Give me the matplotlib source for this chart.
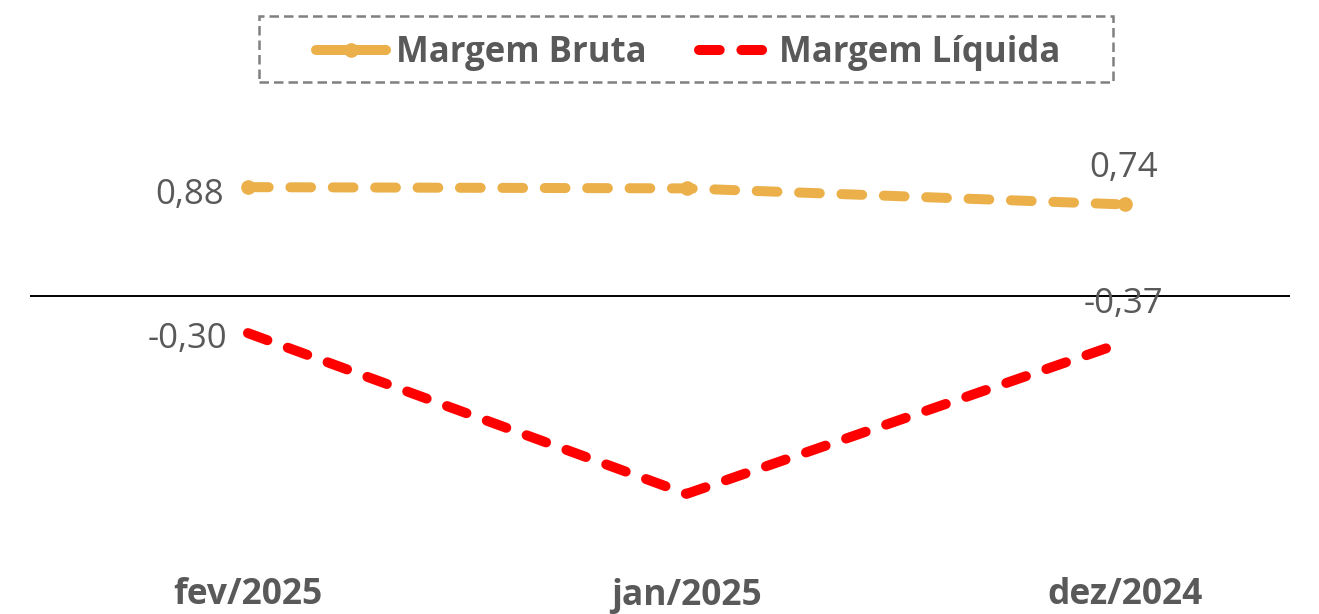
import matplotlib
matplotlib.use("Agg")
import matplotlib.pyplot as plt
from matplotlib.lines import Line2D
from matplotlib.patches import Rectangle

plt.rcParams["font.family"] = ["Open Sans", "DejaVu Sans"]

months = ["fev/2025", "jan/2025", "dez/2024"]
margem_bruta = [0.88, 0.87, 0.74]
margem_liquida = [-0.30, -1.60, -0.37]

gold = "#EBB04A"
red = "#FF0000"
txt = "#595959"

W, H = 1319, 614
fig = plt.figure(figsize=(W / 100, H / 100), dpi=100)

# axes box in pixels (left, top, right, bottom)
px_l, px_t, px_r, px_b = 30, 120, 1290, 565
ax = fig.add_axes([px_l / W, 1 - px_b / H, (px_r - px_l) / W, (px_b - px_t) / H])

x = list(range(len(months)))
lw = 7.2
dash = (2.07, 2.17)
ax.plot(x, margem_bruta, color=gold, lw=lw, dashes=dash,
        dash_capstyle="round", marker="o", ms=9.5)
ax.plot(x, margem_liquida, color=red, lw=lw, dashes=dash,
        dash_capstyle="round")

ax.axhline(0, color="black", lw=1.4, zorder=0)

ax.set_xlim(-0.497, 2.376)
ax.set_ylim(-2.175, 1.423)

for s in ax.spines.values():
    s.set_visible(False)
ax.set_yticks([])
ax.set_xticks(x)
ax.set_xticklabels(months, fontsize=25.5, fontweight="bold", color=txt)
ax.tick_params(axis="x", length=0, pad=9)

def fmt(v):
    return f"{v:.2f}".replace(".", ",")

lab = dict(fontsize=25, color=txt)
ax.annotate(fmt(margem_bruta[0]), (x[0], margem_bruta[0]), xytext=(-17, -6),
            textcoords="offset points", ha="right", va="center", **lab)
ax.annotate(fmt(margem_liquida[0]), (x[0], margem_liquida[0]), xytext=(-15, -4),
            textcoords="offset points", ha="right", va="center", **lab)
ax.annotate(fmt(margem_bruta[2]), (x[2], margem_bruta[2]), xytext=(-1, 26),
            textcoords="offset points", ha="center", va="center", **lab)
ax.annotate(fmt(margem_liquida[2]), (x[2], margem_liquida[2]), xytext=(-1, 27),
            textcoords="offset points", ha="center", va="center", **lab)

# legend with a dashed box drawn by hand
handles = [
    Line2D([], [], color=gold, lw=lw, solid_capstyle="round",
           marker="o", ms=9.5),
    Line2D([], [], color=red, lw=lw, dashes=dash, dash_capstyle="round"),
]
leg = fig.legend(handles, ["Margem Bruta", "Margem Líquida"], ncol=2,
                 loc="center", bbox_to_anchor=(688 / W, 1 - 53 / H),
                 frameon=False, handlelength=2.0,
                 handletextpad=0.3, columnspacing=1.5,
                 prop=dict(size=25, weight="bold"))
for t in leg.get_texts():
    t.set_color(txt)

fig.patches.append(Rectangle((259 / W, 1 - 82 / H), (1113 - 259) / W, 66 / H,
                             transform=fig.transFigure, fill=False,
                             edgecolor="#808080", lw=1.8,
                             linestyle=(0, (3.8, 2))))

fig.savefig("out.png", dpi=100)
